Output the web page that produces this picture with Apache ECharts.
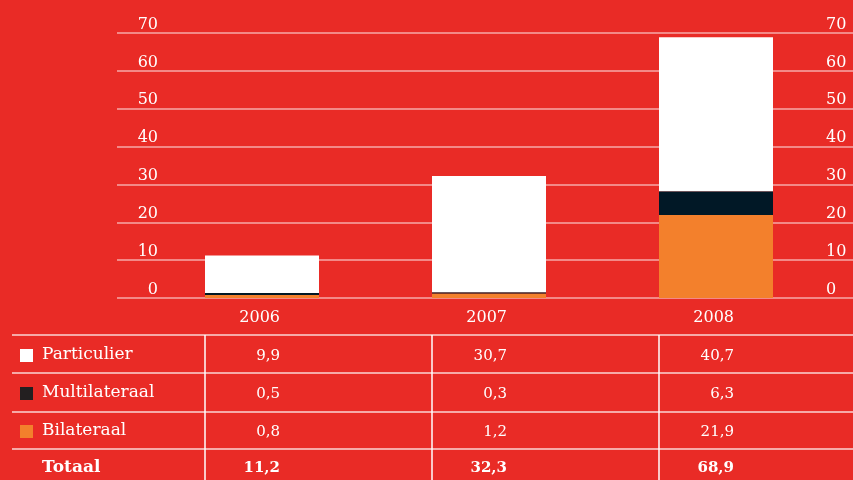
<!DOCTYPE html>
<html><head><meta charset="utf-8">
<script src="https://cdn.jsdelivr.net/npm/echarts@6/dist/echarts.min.js"></script>
<style>html,body{margin:0;padding:0;background:#E92B26;}#c{width:853px;height:480px;}</style>
</head><body><div id="c"></div>
<script>
var years = ['2006', '2007', '2008'];
var particulier = [9.9, 30.7, 40.7];
var multilateraal = [0.5, 0.3, 6.3];
var bilateraal = [0.8, 1.2, 21.9];
var totaal = [11.2, 32.3, 68.9];
var seriesNames = ['Particulier', 'Multilateraal', 'Bilateraal'];
var totalLabel = 'Totaal';
var yMax = 70, yStep = 10;

var RED = '#E92B26', ORANGE = '#F3802C', DARK = '#011826', WHITE = '#FFFFFF';
var FONT = 'DejaVu Serif';
var fmt = function (v) { return v.toFixed(1).replace('.', ','); };

var chart = echarts.init(document.getElementById('c'), null, {renderer: 'canvas'});
var axisLabelBase = {color: '#FFFFFF', fontFamily: FONT, fontSize: 16, verticalAlign: 'bottom', lineHeight: 17};
chart.setOption({
  backgroundColor: RED,
  animation: false,
  grid: [
    {left: 117, right: 0, top: 33, bottom: 182},
    {left: 148.5, right: 23.5, top: 33, bottom: 182}
  ],
  xAxis: [
    {gridIndex: 0, type: 'value', min: 0, max: 1, show: false},
    {gridIndex: 1, type: 'category', data: years, axisLine: {show: false}, axisTick: {show: false}, axisLabel: {show: false}}
  ],
  yAxis: [
    {gridIndex: 0, type: 'value', min: 0, max: yMax, interval: yStep, position: 'left',
     axisLine: {show: false}, axisTick: {show: false},
     splitLine: {lineStyle: {color: 'rgba(255,255,255,0.6)', width: 1.5}},
     axisLabel: Object.assign({margin: -41, align: 'right'}, axisLabelBase)},
    {gridIndex: 0, type: 'value', min: 0, max: yMax, interval: yStep, position: 'right',
     axisLine: {show: false}, axisTick: {show: false}, splitLine: {show: false},
     axisLabel: Object.assign({margin: -27, align: 'left'}, axisLabelBase)},
    {gridIndex: 1, type: 'value', min: 0, max: yMax, interval: yStep, show: false, splitLine: {show: false}}
  ],
  series: [
    {name: seriesNames[2], type: 'bar', stack: 's', xAxisIndex: 1, yAxisIndex: 2, barWidth: 114, data: bilateraal, itemStyle: {color: ORANGE}},
    {name: seriesNames[1], type: 'bar', stack: 's', xAxisIndex: 1, yAxisIndex: 2, barWidth: 114, data: multilateraal, itemStyle: {color: DARK}},
    {name: seriesNames[0], type: 'bar', stack: 's', xAxisIndex: 1, yAxisIndex: 2, barWidth: 114, data: particulier, itemStyle: {color: WHITE}}
  ]
});

// Table below the chart, columns aligned to the category axis
var centers = years.map(function (y, i) {
  var p = chart.convertToPixel({xAxisIndex: 1}, i);
  return Array.isArray(p) ? p[0] : p;
});
var g = [];
var lineColor = 'rgba(255,255,255,0.8)';
var rowLines = [335, 373, 412, 449];
rowLines.forEach(function (y) {
  g.push({type: 'line', shape: {x1: 12, y1: y, x2: 853, y2: y}, style: {stroke: lineColor, lineWidth: 1.5}});
});
centers.forEach(function (cx) {
  g.push({type: 'line', shape: {x1: cx - 57, y1: 335, x2: cx - 57, y2: 480}, style: {stroke: '#FFFFFF', lineWidth: 1.5}});
});
// header years
years.forEach(function (y, i) {
  g.push({type: 'text', x: centers[i] + 18, y: 318, style: {text: y, fill: '#FFFFFF', font: '16px "' + FONT + '"', align: 'right', verticalAlign: 'middle'}});
});
var rows = [
  {name: seriesNames[0], color: WHITE, vals: particulier, y: 355},
  {name: seriesNames[1], color: '#231F20', vals: multilateraal, y: 393},
  {name: seriesNames[2], color: ORANGE, vals: bilateraal, y: 431}
];
rows.forEach(function (r) {
  g.push({type: 'rect', shape: {x: 20, y: r.y - 6, width: 13, height: 13}, style: {fill: r.color}});
  g.push({type: 'text', x: 42, y: r.y, style: {text: r.name, fill: '#FFFFFF', font: '17px "' + FONT + '"', align: 'left', verticalAlign: 'middle'}});
  r.vals.forEach(function (v, i) {
    g.push({type: 'text', x: centers[i] + 18, y: r.y + 1, style: {text: fmt(v), fill: '#FFFFFF', font: '15px "' + FONT + '"', align: 'right', verticalAlign: 'middle'}});
  });
});
g.push({type: 'text', x: 42, y: 468, style: {text: totalLabel, fill: '#FFFFFF', font: 'bold 17px "' + FONT + '"', align: 'left', verticalAlign: 'middle'}});
totaal.forEach(function (v, i) {
  g.push({type: 'text', x: centers[i] + 18, y: 468, style: {text: fmt(v), fill: '#FFFFFF', font: 'bold 15px "' + FONT + '"', align: 'right', verticalAlign: 'middle'}});
});
chart.setOption({graphic: g});
</script>
</body></html>
